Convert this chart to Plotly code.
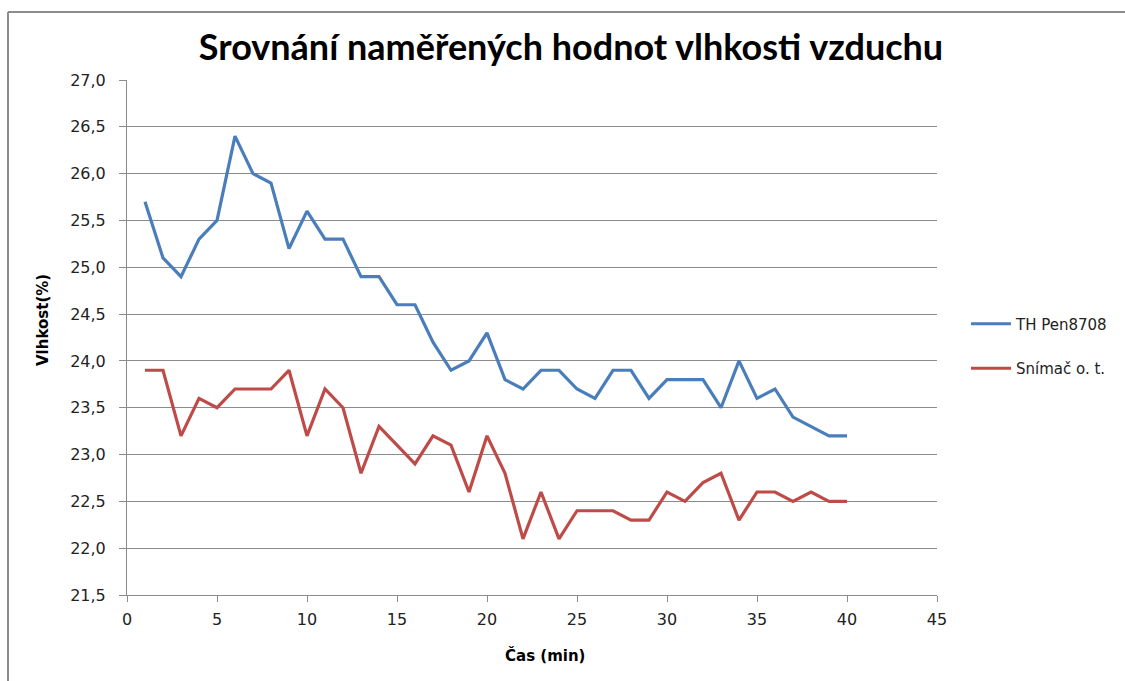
import plotly.graph_objects as go

cas_min = list(range(1, 41))
th_pen8708 = [25.7, 25.1, 24.9, 25.3, 25.5, 26.4, 26.0, 25.9, 25.2, 25.6,
              25.3, 25.3, 24.9, 24.9, 24.6, 24.6, 24.2, 23.9, 24.0, 24.3,
              23.8, 23.7, 23.9, 23.9, 23.7, 23.6, 23.9, 23.9, 23.6, 23.8,
              23.8, 23.8, 23.5, 24.0, 23.6, 23.7, 23.4, 23.3, 23.2, 23.2]
snimac_ot = [23.9, 23.9, 23.2, 23.6, 23.5, 23.7, 23.7, 23.7, 23.9, 23.2,
             23.7, 23.5, 22.8, 23.3, 23.1, 22.9, 23.2, 23.1, 22.6, 23.2,
             22.8, 22.1, 22.6, 22.1, 22.4, 22.4, 22.4, 22.3, 22.3, 22.6,
             22.5, 22.7, 22.8, 22.3, 22.6, 22.6, 22.5, 22.6, 22.5, 22.5]
series_names = ["TH Pen8708", "Snímač o. t."]
title_text = "Srovnání naměřených hodnot vlhkosti vzduchu"
x_title = "Čas (min)"
y_title = "Vlhkost(%)"

W, H = 1125, 681
L, R, T, B = 127, 937, 80, 595
pw, ph = R - L, B - T

def px(x):
    return (x - L) / pw

def py(y):
    return (B - y) / ph

fig = go.Figure()
fig.add_trace(go.Scatter(x=cas_min, y=th_pen8708, mode="lines", name=series_names[0],
                         legendgroup="a",
                         line=dict(color="#4A7EBB", width=3.2)))
fig.add_trace(go.Scatter(x=cas_min, y=snimac_ot, mode="lines", name=series_names[1],
                         legendgroup="b",
                         line=dict(color="#BE4B48", width=3.2)))

frame = dict(color="#8C8C8C", width=2)
fig.update_layout(
    width=W, height=H, autosize=False,
    paper_bgcolor="white", plot_bgcolor="white",
    margin=dict(l=L, r=W - R, t=T, b=H - B, autoexpand=False),
    separators=", ",
    font=dict(family="DejaVu Sans, Open Sans, sans-serif", size=15, color="#222222"),
    title=dict(text="<b>" + title_text + "</b>", x=571 / W, xanchor="center",
               xref="container", y=1 - 47 / H, yanchor="middle", automargin=False,
               font=dict(family="Lato, Open Sans, sans-serif", size=36, color="#000000")),
    showlegend=True,
    legend=dict(x=px(966), y=py(346), xanchor="left", yanchor="middle",
                traceorder="grouped", tracegroupgap=22, itemwidth=40,
                font=dict(size=15, color="#222222"), bgcolor="rgba(0,0,0,0)"),
    shapes=[
        dict(type="line", xref="paper", yref="paper",
             x0=px(8), x1=px(1125), y0=py(12), y1=py(12), line=frame, layer="below"),
        dict(type="line", xref="paper", yref="paper",
             x0=px(8), x1=px(8), y0=py(12), y1=py(681), line=frame, layer="below"),
    ],
    annotations=[
        dict(text="<b>" + x_title + "</b>", xref="paper", yref="paper",
             x=px(545), y=py(655), showarrow=False, xanchor="center", yanchor="middle",
             font=dict(size=15, color="#000000")),
        dict(text="<b>" + y_title + "</b>", xref="paper", yref="paper",
             x=px(43), y=py(320), showarrow=False, xanchor="center", yanchor="middle",
             textangle=-90, font=dict(size=15, color="#000000")),
    ],
)
fig.update_xaxes(range=[0, 45], tick0=0, dtick=5, showgrid=False,
                 showline=True, linecolor="#8C8C8C", linewidth=1,
                 ticks="outside", ticklen=6, tickcolor="#8C8C8C",
                 tickfont=dict(size=16), zeroline=False, automargin=False,
                 ticklabelstandoff=4)
fig.update_yaxes(range=[21.5, 27.0], tick0=21.5, dtick=0.5, tickformat=".1f",
                 showgrid=True, gridcolor="#8C8C8C", gridwidth=1,
                 showline=True, linecolor="#8C8C8C", linewidth=1,
                 ticks="outside", ticklen=7, tickcolor="#8C8C8C",
                 tickfont=dict(size=16), zeroline=False, automargin=False,
                 ticklabelstandoff=10)

fig.write_html("out.html", config={"displayModeBar": False},
               post_script="document.body.style.margin='0';")
